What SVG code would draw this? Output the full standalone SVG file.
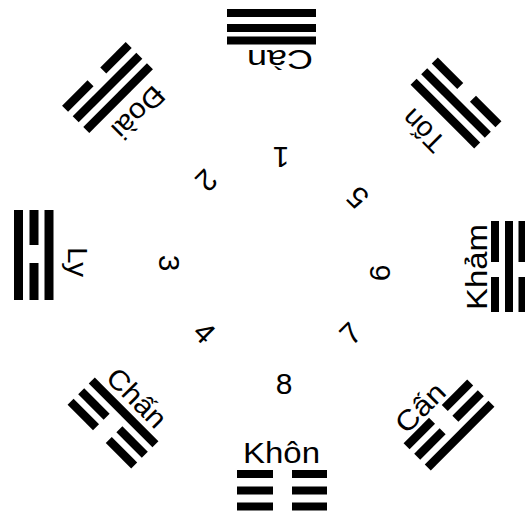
<svg xmlns="http://www.w3.org/2000/svg" width="525" height="514" viewBox="0 0 525 514">
<style>
  .b { fill: #000; }
  .lbl { font-family: "Liberation Sans", "DejaVu Sans", sans-serif; fill: #000; text-anchor: middle; }
  .num { font-family: "Liberation Sans", "DejaVu Sans", sans-serif; font-size: 30px; fill: #000; text-anchor: middle; }
</style>
<rect x="0" y="0" width="525" height="514" fill="#fff"/>
<g id="connectors"></g>

<!-- Càn (top) -->
<g id="can" transform="translate(271.5,28) rotate(180)">
  <rect class="b" x="-44.5" y="-16.5" width="89" height="8"/>
  <rect class="b" x="-44.5" y="-4" width="89" height="8"/>
  <rect class="b" x="-44.5" y="11" width="89" height="8"/>
  <text class="lbl" x="-8.5" y="-22" font-size="27" textLength="66" lengthAdjust="spacingAndGlyphs">Càn</text>
</g>

<!-- Khôn (bottom) -->
<g id="khon" transform="translate(282,490.5)">
  <rect class="b" x="-45" y="-20.5" width="36" height="8"/>
  <rect class="b" x="10" y="-20.5" width="35" height="8"/>
  <rect class="b" x="-45" y="-4" width="36" height="8"/>
  <rect class="b" x="10" y="-4" width="35" height="8"/>
  <rect class="b" x="-45" y="12" width="36" height="8"/>
  <rect class="b" x="10" y="12" width="35" height="8"/>
  <text class="lbl" x="-0.5" y="-27.5" font-size="29" textLength="77" lengthAdjust="spacingAndGlyphs">Khôn</text>
</g>

<!-- Ly (left) -->
<g id="ly" transform="translate(34,255) rotate(90)">
  <rect class="b" x="-45" y="-19.5" width="90" height="9"/>
  <rect class="b" x="-45" y="-4.5" width="35" height="9"/>
  <rect class="b" x="8" y="-4.5" width="37" height="9"/>
  <rect class="b" x="-45" y="11" width="90" height="9"/>
  <text class="lbl" x="7" y="-34" font-size="28" textLength="30" lengthAdjust="spacingAndGlyphs">Ly</text>
</g>

<!-- Khảm (right) -->
<g id="kham" transform="translate(509,266) rotate(-90)">
  <rect class="b" x="-46" y="-18" width="35" height="8"/>
  <rect class="b" x="4" y="-18" width="41" height="8"/>
  <rect class="b" x="-46" y="-4" width="91" height="8"/>
  <rect class="b" x="-46" y="9.5" width="35" height="8"/>
  <rect class="b" x="4" y="9.5" width="41" height="8"/>
  <text class="lbl" x="-1" y="-22" font-size="30" textLength="86" lengthAdjust="spacingAndGlyphs">Khảm</text>
</g>

<!-- Đoài (upper left) -->
<g id="doai" transform="translate(107.5,87.5) rotate(135)">
  <rect class="b" x="-45" y="-19.25" width="90" height="8.5"/>
  <rect class="b" x="-45" y="-4.25" width="90" height="8.5"/>
  <rect class="b" x="-45" y="10.75" width="36" height="8.5"/>
  <rect class="b" x="9" y="10.75" width="36" height="8.5"/>
  <text class="lbl" x="-4" y="-30" font-size="28" textLength="62" lengthAdjust="spacingAndGlyphs">Đoài</text>
</g>

<!-- Tốn (upper right) -->
<g id="ton" transform="translate(456,103) rotate(-135)">
  <rect class="b" x="-45" y="-19.25" width="90" height="8.5"/>
  <rect class="b" x="-45" y="-4.25" width="90" height="8.5"/>
  <rect class="b" x="-45" y="10.75" width="36" height="8.5"/>
  <rect class="b" x="9" y="10.75" width="36" height="8.5"/>
  <text class="lbl" x="3.5" y="-33" font-size="28" textLength="48" lengthAdjust="spacingAndGlyphs">Tốn</text>
</g>

<!-- Chấn (lower left) -->
<g id="chan" transform="translate(113,423) rotate(45)">
  <rect class="b" x="-45" y="-19.25" width="90" height="8.5"/>
  <rect class="b" x="-45" y="-4.25" width="36" height="8.5"/>
  <rect class="b" x="9" y="-4.25" width="36" height="8.5"/>
  <rect class="b" x="-45" y="10.75" width="36" height="8.5"/>
  <rect class="b" x="9" y="10.75" width="36" height="8.5"/>
  <text class="lbl" x="-1" y="-25" font-size="28" textLength="72" lengthAdjust="spacingAndGlyphs">Chấn</text>
</g>

<!-- Cấn (lower right) -->
<g id="can2" transform="translate(449,425) rotate(-45)">
  <rect class="b" x="-45" y="-19.25" width="36" height="8.5"/>
  <rect class="b" x="9" y="-19.25" width="36" height="8.5"/>
  <rect class="b" x="-45" y="-4.25" width="36" height="8.5"/>
  <rect class="b" x="9" y="-4.25" width="36" height="8.5"/>
  <rect class="b" x="-45" y="10.75" width="90" height="8.5"/>
  <text class="lbl" x="-8" y="-23" font-size="28" textLength="58" lengthAdjust="spacingAndGlyphs">Cấn</text>
</g>

<!-- numbers -->
<g id="n1" transform="translate(281,158) rotate(180)"><text class="num" x="0" y="11">1</text></g>
<g id="n2" transform="translate(207,181) rotate(135)"><text class="num" x="0" y="11">2</text></g>
<g id="n3" transform="translate(170,263) rotate(90)"><text class="num" x="0" y="11">3</text></g>
<g id="n4" transform="translate(205,332) rotate(45)"><text class="num" x="0" y="11">4</text></g>
<g id="n5" transform="translate(357,198) rotate(-135)"><text class="num" x="0" y="11">5</text></g>
<g id="n6" transform="translate(379,273) rotate(-90)"><text class="num" x="0" y="11">6</text></g>
<g id="n7" transform="translate(350,333) rotate(-45)"><text class="num" x="0" y="11">7</text></g>
<g id="n8" transform="translate(284,383)"><text class="num" x="0" y="11">8</text></g>
</svg>
